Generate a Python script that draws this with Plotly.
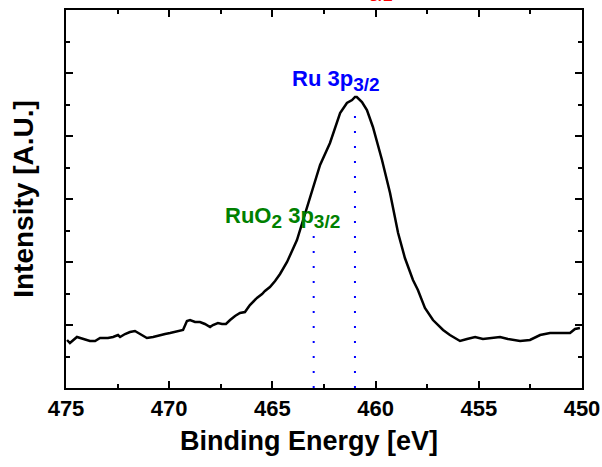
import plotly.graph_objects as go

# XPS spectrum (Ru 3p region)
energy = [474.95, 474.81, 474.47, 474.18, 473.84, 473.59, 473.35, 472.97, 472.72, 472.48,
          472.38, 472.14, 471.90, 471.66, 471.41, 471.27, 471.08, 470.78, 470.45, 470.20,
          469.96, 469.57, 469.33, 469.14, 468.99, 468.75, 468.51, 468.27, 468.02, 467.88,
          467.64, 467.44, 467.25, 467.05, 466.81, 466.57, 466.33, 466.09, 465.94, 465.75,
          465.50, 465.36, 465.12, 464.87, 464.63, 464.29, 463.81, 463.52, 463.03, 462.69,
          462.21, 461.72, 461.39, 461.14, 461.00, 460.91, 460.66, 460.42, 460.13, 459.69,
          459.30, 458.91, 458.58, 458.19, 457.95, 457.61, 457.22, 456.73, 456.40, 455.91,
          455.57, 455.18, 454.80, 454.36, 453.97, 453.59, 453.00, 452.52, 452.03, 451.55,
          451.07, 450.58, 450.34, 450.10]
intensity = [0.762, 0.714, 0.810, 0.778, 0.746, 0.746, 0.794, 0.794, 0.810, 0.841,
             0.810, 0.857, 0.889, 0.905, 0.857, 0.825, 0.794, 0.810, 0.841, 0.857,
             0.873, 0.905, 0.921, 1.063, 1.079, 1.048, 1.048, 1.016, 0.968, 1.000,
             1.032, 1.016, 1.016, 1.079, 1.143, 1.190, 1.206, 1.317, 1.365, 1.429,
             1.492, 1.540, 1.603, 1.698, 1.810, 2.000, 2.349, 2.667, 3.190, 3.540,
             3.889, 4.365, 4.524, 4.571, 4.619, 4.619, 4.540, 4.413, 4.143, 3.619,
             3.095, 2.460, 2.063, 1.714, 1.556, 1.270, 1.079, 0.921, 0.841, 0.746,
             0.778, 0.810, 0.778, 0.794, 0.810, 0.778, 0.746, 0.762, 0.841, 0.873,
             0.873, 0.873, 0.937, 0.952]

peak_energy = [461.0, 463.0]
peak_top = [4.52, 2.50]
peak_labels = ["Ru 3p<sub><span style='font-size:19px'>3/2</span></sub>",
               "RuO<sub><span style='font-size:19px'>2</span></sub> 3p<sub><span style='font-size:19px'>3/2</span></sub>"]
label_colors = ["#0000ff", "#008000"]
label_x = [464.15, 467.4]
label_y = [4.62, 2.45]

x_ticks = [475, 470, 465, 460, 455, 450]

FONT = "Arial, 'Liberation Sans', sans-serif"

fig = go.Figure()

for e, top in zip(peak_energy, peak_top):
    fig.add_trace(go.Scatter(x=[e, e], y=[0, top], mode="lines",
                             line=dict(color="#0000ff", width=2, dash="2px,13px"),
                             hoverinfo="skip", showlegend=False))

fig.add_trace(go.Scatter(x=energy, y=intensity, mode="lines",
                         line=dict(color="black", width=2.5),
                         showlegend=False))

for txt, col, lx, ly in zip(peak_labels, label_colors, label_x, label_y):
    fig.add_annotation(x=lx, y=ly, xref="x", yref="y", text="<b>" + txt + "</b>",
                       showarrow=False, xanchor="left", yanchor="bottom",
                       font=dict(family=FONT, size=22, color=col))

# partially cut-off red label at the very top of the image
fig.add_annotation(x=459.06, y=1.009, xref="x", yref="paper", text="<b>3/2</b>",
                   showarrow=False, xanchor="right", yanchor="bottom",
                   font=dict(family=FONT, size=17, color="#ff0000"))

# x-axis title
fig.add_annotation(x=0.47, y=-0.095, xref="paper", yref="paper",
                   text="<b>Binding Energy [eV]</b>", showarrow=False,
                   xanchor="center", yanchor="top",
                   font=dict(family=FONT, size=27, color="black"))

axis_common = dict(showline=True, linecolor="black", linewidth=2, mirror="ticks",
                   ticks="inside", ticklen=7, tickwidth=2, tickcolor="black",
                   showgrid=False, zeroline=False, automargin=False)

fig.update_xaxes(range=[475, 450], tickvals=x_ticks,
                 ticktext=[str(t) for t in x_ticks],
                 tickfont=dict(family=FONT, size=22, color="black", weight="bold"),
                 minor=dict(ticks="inside", ticklen=4, tickwidth=2, tickcolor="black", dtick=2.5),
                 **axis_common)
fig.update_yaxes(range=[0, 6], dtick=1, showticklabels=False,
                 title=dict(text="<b>Intensity [A.U.]</b>",
                            font=dict(family=FONT, size=28, color="black"), standoff=22),
                 minor=dict(ticks="inside", ticklen=4, tickwidth=2, tickcolor="black", dtick=0.5),
                 **axis_common)

fig.update_layout(width=602, height=467, margin=dict(l=66, r=20, t=10, b=79),
                  plot_bgcolor="white", paper_bgcolor="white")

fig.write_html("out.html")
